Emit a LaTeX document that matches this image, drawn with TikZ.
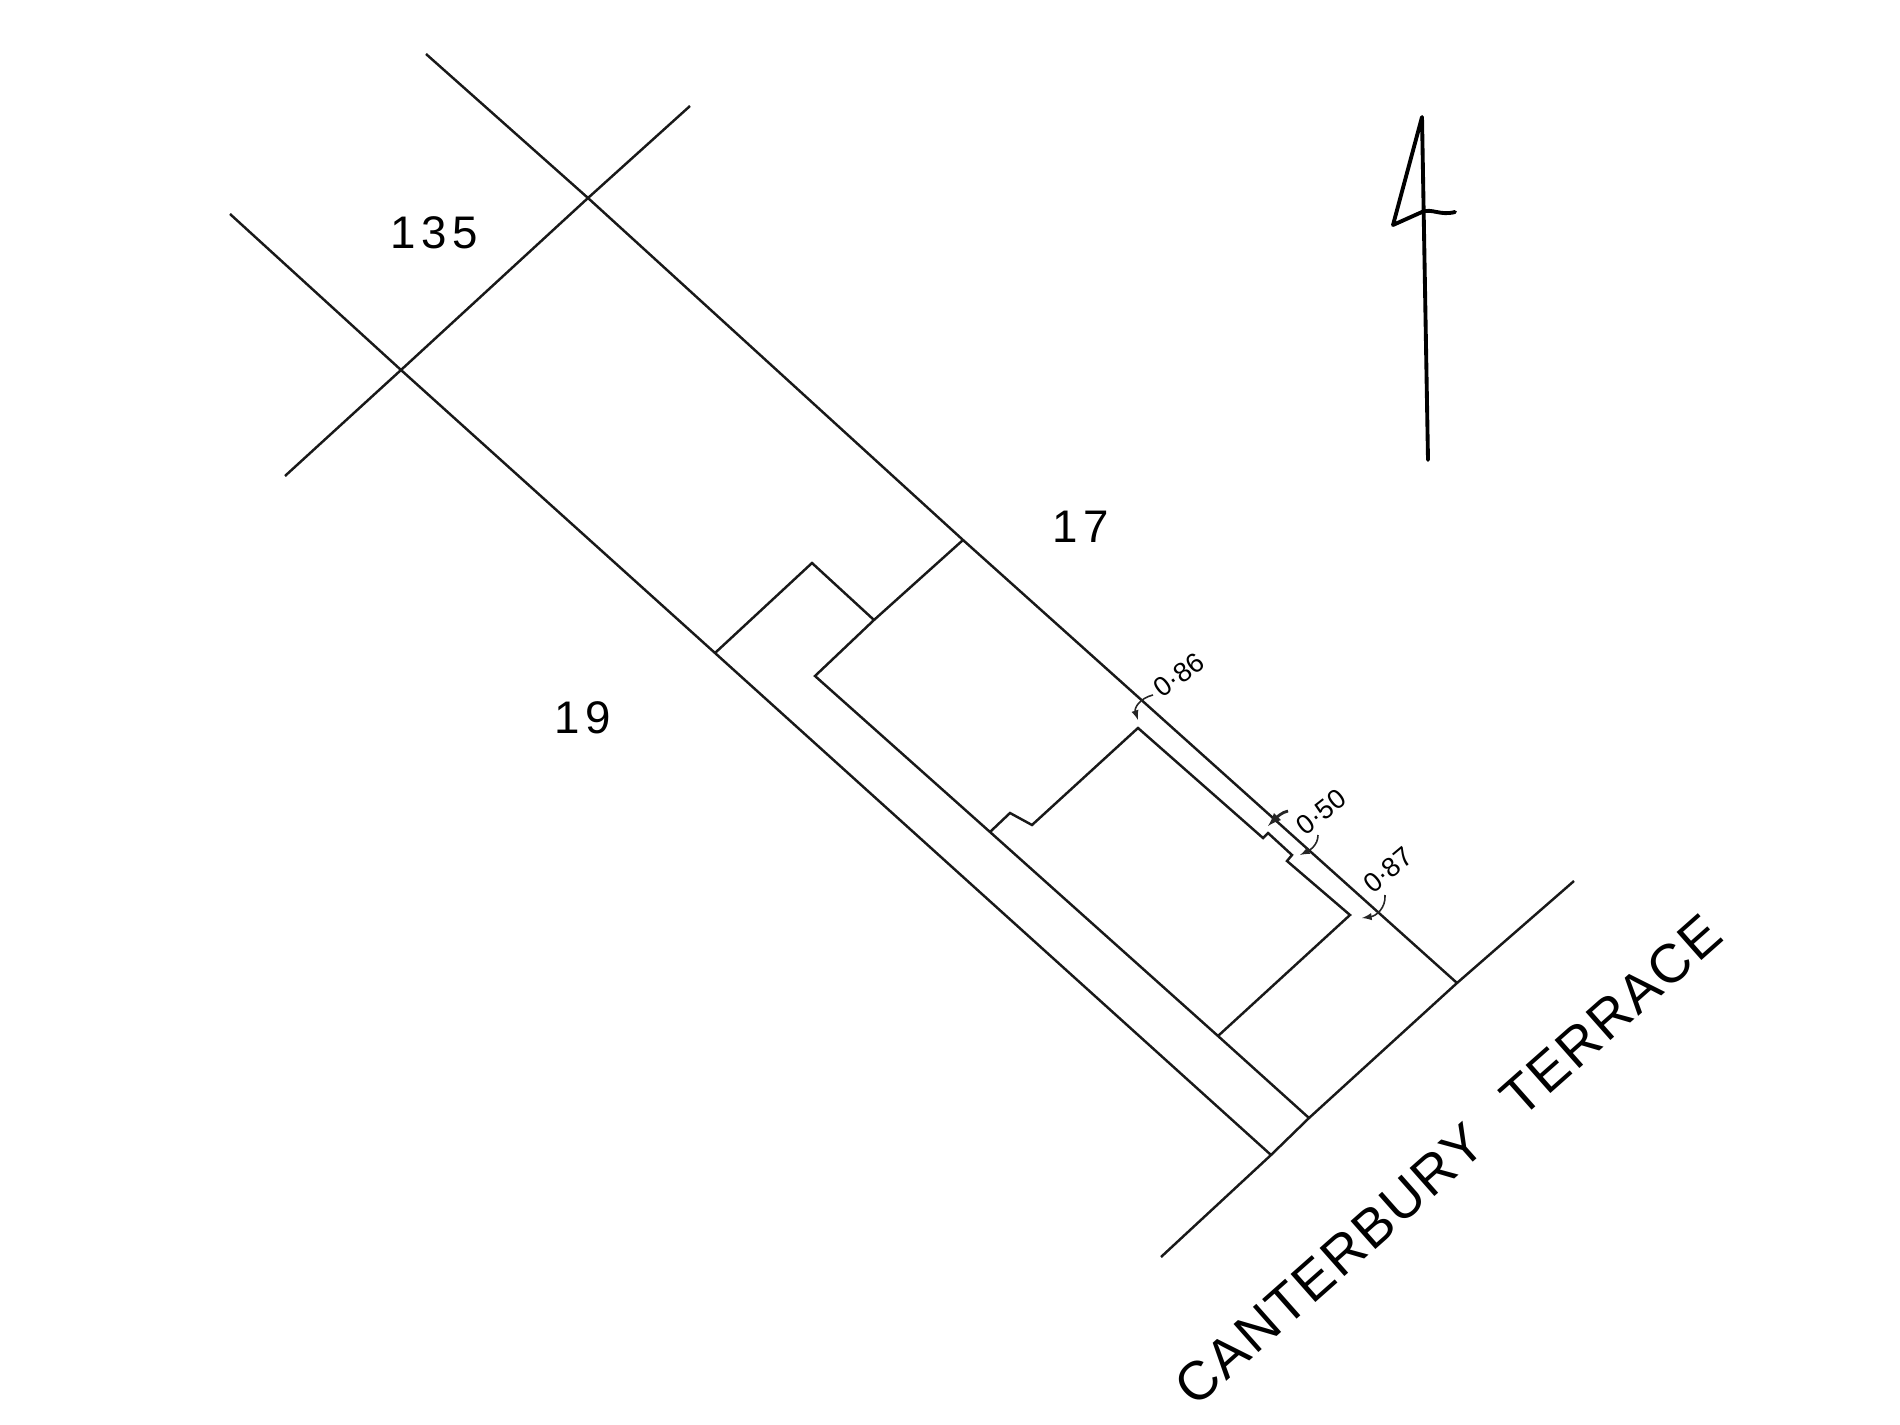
\documentclass[tikz,border=0pt]{standalone}
\usepackage{fontspec}
\setmainfont{Liberation Sans}
\newfontfamily\roadfont[LetterSpace=3.6]{Liberation Sans}
\newfontfamily\lotfont[LetterSpace=12]{Liberation Sans}

\tikzset{
	boundary/.style={line width=1.4pt, black!90},
	leader/.style={line width=0.9pt, black!85, ->, >=latex},
	lotlabel/.style={inner sep=0pt, font=\lotfont\fontsize{26}{26}\selectfont},
	offset/.style={inner sep=0pt, font=\fontsize{15.5}{15.5}\selectfont}
}

\begin{document}
\begin{tikzpicture}[x=0.02cm, y=-0.02cm]
		\useasboundingbox (0, 0) rectangle (1900, 1425);

		% site corners
		\coordinate (ne top) at (426, 54);
		\coordinate (ne rear) at (588, 198);
		\coordinate (ne mid) at (963, 540);
		\coordinate (ne front) at (1457, 983);
		\coordinate (sw top) at (230, 214);
		\coordinate (sw rear) at (401, 370);
		\coordinate (sw mid) at (715, 653);
		\coordinate (sw front) at (1271, 1155);
		\coordinate (rear up) at (690, 106);
		\coordinate (rear down) at (285, 476);
		\coordinate (road up) at (1574, 881);
		\coordinate (road down) at (1161, 1257);

		% house corners
		\coordinate (shed top) at (812, 563);
		\coordinate (shed end) at (874, 620);
		\coordinate (house back) at (815, 676);
		\coordinate (drive end) at (1309, 1118);
		\coordinate (side a) at (990, 832);
		\coordinate (side b) at (1010, 813);
		\coordinate (side c) at (1032, 825);
		\coordinate (apex) at (1138, 728);
		\coordinate (step a) at (1263, 838);
		\coordinate (step b) at (1268, 833);
		\coordinate (step c) at (1292, 855);
		\coordinate (step d) at (1287, 861);
		\coordinate (front a) at (1350, 915);
		\coordinate (front b) at (1218, 1036);

		% boundaries
		\draw[boundary] (ne top) -- (ne rear) -- (ne mid) -- (ne front);
		\draw[boundary] (sw top) -- (sw rear) -- (sw mid) -- (sw front);
		\draw[boundary] (rear up) -- (ne rear) -- (sw rear) -- (rear down);
		\draw[boundary] (road up) -- (ne front) -- (drive end) -- (sw front) -- (road down);

		% house
		\draw[boundary] (ne mid) -- (shed end) -- (house back) -- (side a) -- (front b) -- (drive end);
		\draw[boundary] (sw mid) -- (shed top) -- (shed end);
		\draw[boundary] (side a) -- (side b) -- (side c) -- (apex) -- (step a) -- (step b) -- (step c) -- (step d) -- (front a) -- (front b);

		% lot and road labels
		\node[lotlabel] (lot135) at (434, 233) {135};
		\node[lotlabel] (lot17) at (1081, 527) {17};
		\node[lotlabel] (lot19) at (583, 718) {19};
		\node[inner sep=0pt, rotate=41.5, font=\roadfont\fontsize{31}{31}\selectfont] (road) at (1448, 1160) {CANTERBURY\hspace{0.8em}TERRACE};

		% offsets
		\node[offset, rotate=37] (off86) at (1179, 675) {0·86};
		\node[offset, rotate=38] (off50) at (1321, 812) {0·50};
		\node[offset, rotate=40] (off87) at (1388, 870) {0·87};

		\coordinate (from86) at (1153, 695);
		\coordinate (from50a) at (1288, 811);
		\coordinate (from50b) at (1318, 835);
		\coordinate (from87) at (1385, 895);
		\coordinate (tip86) at (1138, 720);
		\coordinate (tip50a) at (1268, 826);
		\coordinate (tip50b) at (1300, 855);
		\coordinate (tip87) at (1362, 918);
		\draw[leader] (from86) .. controls (1140, 698) and (1134, 708) .. (tip86);
		\draw[leader, line width=1.6pt] (from50a) .. controls (1282, 812) and (1276, 818) .. (tip50a);
		\draw[leader] (from50b) .. controls (1318, 845) and (1310, 850) .. (tip50b);
		\draw[leader] (from87) .. controls (1386, 908) and (1376, 916) .. (tip87);

		% north point
		\coordinate (north top) at (1422, 117);
		\coordinate (north left) at (1393, 225);
		\coordinate (north bar) at (1455, 212);
		\coordinate (north foot) at (1428, 460);
		\draw[line width=2.2pt, line cap=round, line join=round] (north bar) .. controls (1440, 216) and (1432, 208) .. (1422, 212) -- (north left) -- (north top) -- (north foot);
	\end{tikzpicture}
\end{document}
